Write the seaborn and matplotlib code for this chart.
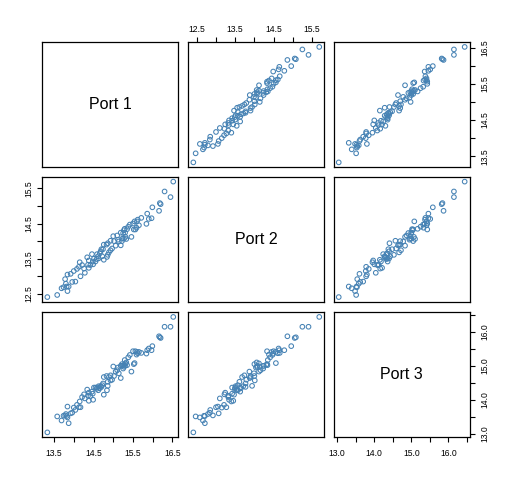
import pandas as pd
import matplotlib
matplotlib.use('Agg')
import matplotlib.pyplot as plt
import seaborn as sns
import numpy as np

# Данные
port1 = [13.33, 13.58, 13.69, 13.74, 13.78, 13.82, 13.84, 13.84, 13.87, 13.92,
         13.96, 14.00, 14.04, 14.13, 14.17, 14.15, 14.21, 14.28, 14.34, 14.38,
         14.38, 14.42, 14.46, 14.49, 14.51, 14.55, 14.59, 14.63, 14.68, 14.72,
         14.76, 14.76, 14.83, 14.89, 14.86, 14.93, 14.97, 14.84, 14.86, 15.00,
         15.06, 15.10, 15.19, 15.14, 15.19, 15.23, 15.27, 15.31, 15.27, 15.35,
         15.29, 15.38, 15.42, 15.46, 15.52, 15.54, 15.50, 15.56, 15.60, 15.65,
         15.59, 15.71, 15.84, 15.86, 15.97, 15.99, 15.90, 16.16, 16.20, 16.30,
         16.45, 16.52, 14.58, 14.66, 14.70, 14.62, 14.48, 15.22, 15.30, 15.25,
         15.33, 13.80, 14.08, 14.93, 15.02, 14.36, 15.62, 15.12, 14.26, 14.74,
         16.18]
port2 = [12.41, 12.47, 12.66, 12.69, 12.92, 12.71, 12.58, 13.05, 12.71, 13.07,
         12.84, 13.15, 12.85, 13.27, 13.00, 13.40, 13.32, 13.10, 13.54, 13.24,
         13.45, 13.32, 13.63, 13.34, 13.50, 13.42, 13.63, 13.51, 13.71, 13.57,
         13.47, 13.90, 13.90, 13.68, 13.61, 14.01, 13.79, 13.55, 13.94, 14.14,
         13.87, 14.16, 13.88, 13.99, 14.24, 14.07, 14.31, 14.12, 14.07, 14.34,
         14.35, 14.41, 14.47, 14.12, 14.33, 14.56, 14.50, 14.33, 14.56, 14.45,
         14.38, 14.66, 14.49, 14.78, 14.65, 14.96, 14.63, 14.86, 15.05, 15.41,
         15.25, 15.69, 13.49, 13.65, 13.77, 13.57, 13.42, 14.00, 14.24, 14.23,
         14.06, 12.79, 13.21, 13.74, 14.00, 13.33, 14.61, 14.04, 13.22, 13.77,
         15.08]
port3 = [13.04, 13.51, 13.39, 13.53, 13.54, 13.52, 13.48, 13.80, 13.31, 13.60,
         13.62, 13.77, 13.70, 13.78, 13.78, 13.95, 14.08, 14.04, 14.30, 14.21,
         13.97, 14.11, 14.24, 14.00, 14.36, 14.36, 14.36, 14.40, 14.40, 14.43,
         14.15, 14.67, 14.70, 14.67, 14.53, 14.57, 14.59, 14.28, 14.41, 14.98,
         14.83, 14.87, 14.64, 14.78, 15.00, 15.00, 15.03, 15.07, 14.97, 15.02,
         15.17, 15.25, 15.32, 14.83, 15.05, 15.08, 15.43, 15.43, 15.41, 15.41,
         15.33, 15.38, 15.36, 15.46, 15.46, 15.58, 15.51, 15.87, 15.82, 16.15,
         16.15, 16.44, 14.32, 14.34, 14.38, 14.28, 14.18, 15.05, 15.00, 14.92,
         15.10, 13.58, 13.85, 14.72, 14.70, 14.12, 15.37, 14.95, 14.16, 14.48,
         15.84]

names = ['Port 1', 'Port 2', 'Port 3']
df = pd.DataFrame({'Port 1': port1, 'Port 2': port2, 'Port 3': port3})

# Деления осей (подписи только через одно, как в R)
ticks = {
    'Port 1': [13.5, 14.0, 14.5, 15.0, 15.5, 16.0, 16.5],
    'Port 2': [12.5, 13.0, 13.5, 14.0, 14.5, 15.0, 15.5],
    'Port 3': [13.0, 13.5, 14.0, 14.5, 15.0, 15.5, 16.0, 16.5],
}

def tick_labels(vals):
    return [f'{v:.1f}' if i % 2 == 0 else '' for i, v in enumerate(vals)]

def limits(col):
    lo, hi = df[col].min(), df[col].max()
    pad = 0.04 * (hi - lo)
    return lo - pad, hi + pad

sns.set_style('white')
plt.rcParams['font.family'] = ['Liberation Sans', 'DejaVu Sans']

fig = plt.figure(figsize=(5.12, 4.8), dpi=100)
lefts = [42.3, 188.3, 333.7]
tops = [42.3, 177.0, 312.3]
w, h = 136.0, 124.7

point_color = '#4682B4'

for i, yname in enumerate(names):
    for j, xname in enumerate(names):
        ax = fig.add_axes([lefts[j] / 512, 1 - (tops[i] + h) / 480, w / 512, h / 480])
        for s in ax.spines.values():
            s.set_color('black')
            s.set_linewidth(0.9)
        if i == j:
            ax.text(0.5, 0.5, yname, transform=ax.transAxes, ha='center', va='center',
                    fontsize=11.5, color='black')
        else:
            sns.scatterplot(x=df[xname], y=df[yname], ax=ax, marker='o', s=11,
                            facecolors='none', edgecolor=point_color, linewidth=0.75)
        ax.set_xlim(limits(xname))
        ax.set_ylim(limits(yname))
        ax.set_xlabel('')
        ax.set_ylabel('')

        # оси как в pairs(): сверху у чётных столбцов, снизу у нечётных
        show_top = (i == 0 and j % 2 == 1)
        show_bottom = (i == 2 and j % 2 == 0)
        show_left = (j == 0 and i % 2 == 1)
        show_right = (j == 2 and i % 2 == 0)

        ax.set_xticks(ticks[xname])
        ax.set_xticklabels(tick_labels(ticks[xname]))
        ax.set_yticks(ticks[yname])
        ax.set_yticklabels(tick_labels(ticks[yname]))
        ax.tick_params(axis='x', top=show_top, labeltop=show_top,
                       bottom=show_bottom, labelbottom=show_bottom,
                       direction='out', length=3.5, width=0.8, labelsize=6.2,
                       pad=5 if show_bottom else 2.5, colors='black')
        ax.tick_params(axis='y', left=show_left, labelleft=show_left,
                       right=show_right, labelright=show_right,
                       direction='out', length=3.5, width=0.8, labelsize=6.2,
                       pad=4.5 if show_right else 3.2, labelrotation=90, colors='black')
        for lab in ax.get_yticklabels():
            lab.set_va('center')

fig.savefig('out.png', dpi=100, facecolor='white')
